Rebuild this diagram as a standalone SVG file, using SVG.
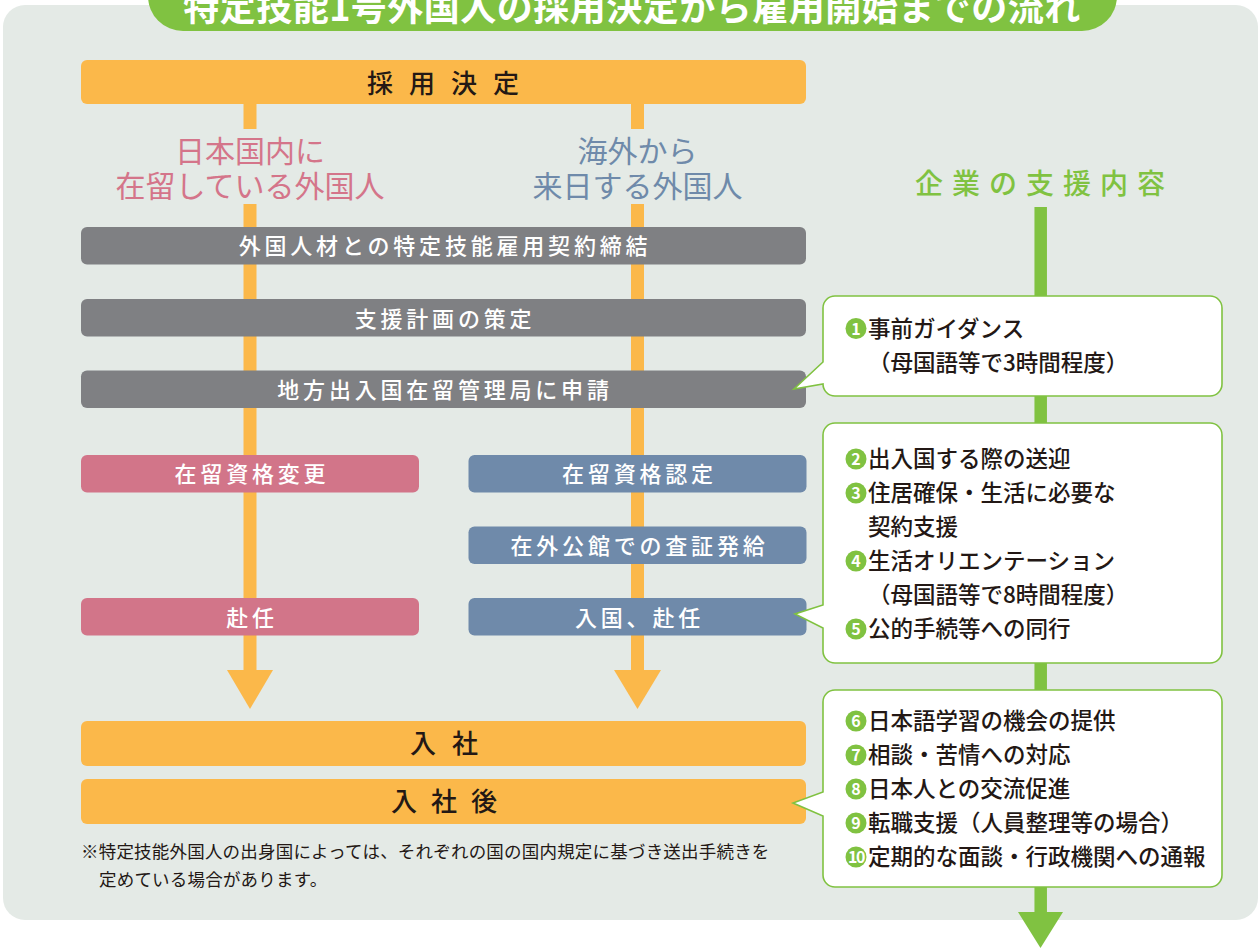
<svg xmlns="http://www.w3.org/2000/svg" width="1260" height="949" viewBox="0 0 1260 949">
<defs>
<style>
.t{font-family:"Noto Sans CJK JP","Noto Sans",sans-serif;}
.bar-o{fill:#FBB84A;}
.bar-g{fill:#7F8083;}
.bar-p{fill:#D27589;}
.bar-b{fill:#6F8AAA;}
.wt{fill:#FFFFFF;font-size:22px;font-weight:500;letter-spacing:3.8px;text-anchor:middle;}
.dk{fill:#231815;font-size:26px;font-weight:500;text-anchor:middle;}
.lbl{font-size:30px;font-weight:400;text-anchor:middle;}
.co{fill:#FFFFFF;stroke:#80C241;stroke-width:1.6;}
.ct{fill:#231815;font-size:22.5px;font-weight:500;}
.num{fill:#80C241;}
.nt{fill:#FFFFFF;font-size:16px;font-weight:700;text-anchor:middle;}
.ol{stroke:#FBB84A;stroke-width:13;fill:none;}
</style>
</defs>

<rect x="3" y="5" width="1255" height="915" rx="22" fill="#E4EAE6"/>

<g id="title">
<rect x="148" y="-40" width="969" height="71" rx="35" fill="#80C241"/>
<text class="t" x="632" y="21" fill="#FFFFFF" font-size="36" font-weight="700" text-anchor="middle" letter-spacing="0.5">特定技能1号外国人の採用決定から雇用開始までの流れ</text>
</g>

<g id="connectors">
<line class="ol" x1="250" y1="104" x2="250" y2="129"/>
<line class="ol" x1="250" y1="204" x2="250" y2="672"/>
<polygon points="227,670 273,670 250,709" fill="#FBB84A"/>
<line class="ol" x1="637.5" y1="104" x2="637.5" y2="129"/>
<line class="ol" x1="637.5" y1="204" x2="637.5" y2="672"/>
<polygon points="614,670 661,670 637.5,709" fill="#FBB84A"/>
<line x1="1040.7" y1="207" x2="1040.7" y2="914" stroke="#80C241" stroke-width="12.5"/>
<polygon points="1018,912 1063,912 1040.5,948" fill="#80C241"/>
</g>

<g id="n-saiyo">
<rect class="bar-o" x="81" y="60" width="725" height="44" rx="6"/>
<text class="t dk" x="451" y="93" letter-spacing="16">採用決定</text>
</g>

<g id="lbl-domestic">
<text class="t lbl" x="250" y="162" fill="#D4758A">日本国内に</text>
<text class="t lbl" x="250" y="197" fill="#D4758A">在留している外国人</text>
</g>
<g id="lbl-overseas">
<text class="t lbl" x="637.5" y="162" fill="#6F8AAA">海外から</text>
<text class="t lbl" x="637.5" y="197" fill="#6F8AAA">来日する外国人</text>
</g>
<g id="lbl-support">
<text class="t" x="1044.5" y="194" fill="#80C241" font-size="28" font-weight="500" text-anchor="middle" letter-spacing="9">企業の支援内容</text>
</g>

<g id="n-contract">
<rect class="bar-g" x="81" y="227" width="725" height="37.5" rx="6"/>
<text class="t wt" x="445" y="254">外国人材との特定技能雇用契約締結</text>
</g>
<g id="n-plan">
<rect class="bar-g" x="81" y="299" width="725" height="37.5" rx="6"/>
<text class="t wt" x="445" y="326.5">支援計画の策定</text>
</g>
<g id="n-apply">
<rect class="bar-g" x="81" y="370.5" width="725" height="37.5" rx="6"/>
<text class="t wt" x="445" y="397.5">地方出入国在留管理局に申請</text>
</g>

<g id="n-change">
<rect class="bar-p" x="81" y="455" width="338" height="37.5" rx="6"/>
<text class="t wt" x="252" y="482">在留資格変更</text>
</g>
<g id="n-assign-d">
<rect class="bar-p" x="81" y="598" width="338" height="37.5" rx="6"/>
<text class="t wt" x="252" y="625.5">赴任</text>
</g>

<g id="n-cert">
<rect class="bar-b" x="468.5" y="455" width="338" height="37.5" rx="6"/>
<text class="t wt" x="639.5" y="482">在留資格認定</text>
</g>
<g id="n-visa">
<rect class="bar-b" x="468.5" y="526.5" width="338" height="37.5" rx="6"/>
<text class="t wt" x="639.5" y="553.5">在外公館での査証発給</text>
</g>
<g id="n-entry">
<rect class="bar-b" x="468.5" y="598" width="338" height="37.5" rx="6"/>
<text class="t wt" x="639.5" y="625.5">入国、赴任</text>
</g>

<g id="n-join">
<rect class="bar-o" x="81" y="721" width="725" height="45" rx="6"/>
<text class="t dk" x="452" y="753" letter-spacing="16">入社</text>
</g>
<g id="n-after">
<rect class="bar-o" x="81" y="779" width="725" height="45" rx="6"/>
<text class="t dk" x="451" y="811" letter-spacing="14">入社後</text>
</g>

<g id="note">
<text class="t" x="81" y="858" fill="#231815" font-size="17.5" letter-spacing="0.2">※特定技能外国人の出身国によっては、それぞれの国の国内規定に基づき送出手続きを</text>
<text class="t" x="99" y="886" fill="#231815" font-size="17.5" letter-spacing="0.2">定めている場合があります。</text>
</g>

<g id="callout-1">
<path class="co" d="M835,296 H1210 A12,12 0 0 1 1222,308 V384 A12,12 0 0 1 1210,396 H835 A12,12 0 0 1 823,384 L794,389 L823,362 V308 A12,12 0 0 1 835,296 Z"/>
<circle class="num" cx="856" cy="328.5" r="10.5"/>
<text class="t nt" x="856" y="334.5">1</text>
<text class="t ct" x="868" y="337">事前ガイダンス</text>
<text class="t ct" x="868" y="371">（母国語等で3時間程度）</text>
</g>

<g id="callout-2">
<path class="co" d="M835,423 H1210 A12,12 0 0 1 1222,435 V651 A12,12 0 0 1 1210,663 H835 A12,12 0 0 1 823,651 V628 L795,614 L823,605 V435 A12,12 0 0 1 835,423 Z"/>
<circle class="num" cx="856" cy="459" r="10.5"/>
<text class="t nt" x="856" y="465">2</text>
<text class="t ct" x="868" y="467">出入国する際の送迎</text>
<circle class="num" cx="856" cy="493" r="10.5"/>
<text class="t nt" x="856" y="499">3</text>
<text class="t ct" x="868" y="501">住居確保・生活に必要な</text>
<text class="t ct" x="868" y="535">契約支援</text>
<circle class="num" cx="856" cy="561" r="10.5"/>
<text class="t nt" x="856" y="567">4</text>
<text class="t ct" x="868" y="569">生活オリエンテーション</text>
<text class="t ct" x="868" y="603">（母国語等で8時間程度）</text>
<circle class="num" cx="856" cy="629" r="10.5"/>
<text class="t nt" x="856" y="635">5</text>
<text class="t ct" x="868" y="637">公的手続等への同行</text>
</g>

<g id="callout-3">
<path class="co" d="M835,690 H1210 A12,12 0 0 1 1222,702 V875 A12,12 0 0 1 1210,887 H835 A12,12 0 0 1 823,875 V816 L793,803 L823,792 V702 A12,12 0 0 1 835,690 Z"/>
<circle class="num" cx="856" cy="721" r="10.5"/>
<text class="t nt" x="856" y="727">6</text>
<text class="t ct" x="868" y="729">日本語学習の機会の提供</text>
<circle class="num" cx="856" cy="755" r="10.5"/>
<text class="t nt" x="856" y="761">7</text>
<text class="t ct" x="868" y="763">相談・苦情への対応</text>
<circle class="num" cx="856" cy="789" r="10.5"/>
<text class="t nt" x="856" y="795">8</text>
<text class="t ct" x="868" y="797">日本人との交流促進</text>
<circle class="num" cx="856" cy="823" r="10.5"/>
<text class="t nt" x="856" y="829">9</text>
<text class="t ct" x="868" y="831">転職支援（人員整理等の場合）</text>
<circle class="num" cx="856" cy="857" r="10.5"/>
<text class="t nt" x="856" y="862.5" font-size="14" letter-spacing="-1.5">10</text>
<text class="t ct" x="868" y="865">定期的な面談・行政機関への通報</text>
</g>
</svg>
